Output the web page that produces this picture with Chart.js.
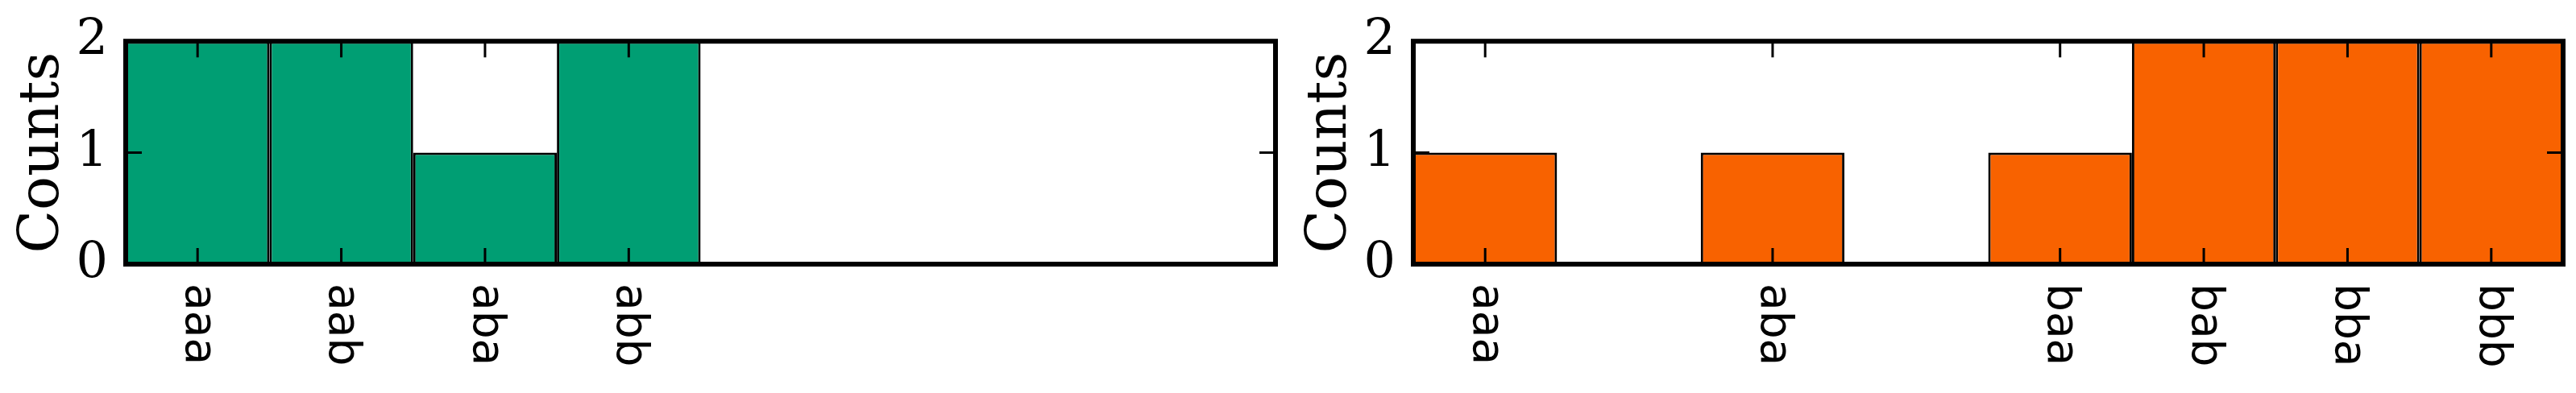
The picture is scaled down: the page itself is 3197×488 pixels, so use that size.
<!DOCTYPE html>
<html>
<head>
<meta charset="utf-8">
<script src="https://cdn.jsdelivr.net/npm/chart.js@4.4.0/dist/chart.umd.min.js"></script>
<style>
  body { margin: 0; background: #fff; }
  .panel { position: absolute; top: 0; width: 1598px; height: 488px; }
</style>
</head>
<body>
<div class="panel" style="left:0"><canvas id="left_chart"></canvas></div>
<div class="panel" style="left:1598px"><canvas id="right_chart"></canvas></div>
<script>
// 8 bins each, only non-empty bins get a tick and a label
var left_labels = ['aaa', 'aab', 'aba', 'abb', '', '', '', ''];
var left_counts = [2, 2, 1, 2, 0, 0, 0, 0];
var right_labels = ['aaa', '', 'aba', '', 'baa', 'bab', 'bba', 'bbb'];
var right_counts = [1, 0, 1, 0, 1, 2, 2, 2];
var y_ticks = [0, 1, 2];

// frame, inside ticks and top-to-bottom x labels (matplotlib style)
var frame_plugin = {
    id: 'frame',
    afterDatasetsDraw: function(chart){
        var ctx = chart.ctx;
        var a = chart.chartArea;
        var xs = chart.scales.x;
        var ys = chart.scales.y;
        var labels = chart.data.labels;
        ctx.save();
        ctx.strokeStyle = '#000';
        ctx.lineWidth = 3;
        ctx.beginPath();
        for(var i = 0; i < labels.length; i++){
            if(!labels[i]) continue;
            var x = xs.getPixelForValue(i);
            ctx.moveTo(x, a.bottom); ctx.lineTo(x, a.bottom - 20);
            ctx.moveTo(x, a.top); ctx.lineTo(x, a.top + 20);
        }
        for(var j = 0; j < y_ticks.length; j++){
            var y = ys.getPixelForValue(y_ticks[j]);
            ctx.moveTo(a.left, y); ctx.lineTo(a.left + 20, y);
            ctx.moveTo(a.right, y); ctx.lineTo(a.right - 20, y);
        }
        ctx.stroke();
        ctx.lineWidth = 6;
        ctx.strokeRect(a.left, a.top, a.right - a.left, a.bottom - a.top);

        ctx.fillStyle = '#000';
        ctx.font = '55px "DejaVu Sans"';
        ctx.textAlign = 'left';
        ctx.textBaseline = 'middle';
        for(var k = 0; k < labels.length; k++){
            if(!labels[k]) continue;
            ctx.save();
            ctx.translate(xs.getPixelForValue(k), a.bottom + 24);
            ctx.rotate(Math.PI / 2);
            ctx.fillText(labels[k], 0, 0);
            ctx.restore();
        }
        ctx.restore();
    }
};

function draw_hist(canvas_id, labels, counts, color){
    new Chart(document.getElementById(canvas_id), {
        type: 'bar',
        data: {
            labels: labels,
            datasets: [{
                data: counts,
                backgroundColor: color,
                borderColor: '#000',
                borderWidth: 3,
                borderSkipped: false,
                inflateAmount: 0,
                barPercentage: 1,
                categoryPercentage: 1
            }]
        },
        options: {
            responsive: true,
            maintainAspectRatio: false,
            animation: false,
            layout: { padding: { left: 0, right: 15, top: 46, bottom: 160 } },
            plugins: { legend: { display: false }, tooltip: { enabled: false } },
            scales: {
                x: { display: false },
                y: {
                    min: 0,
                    max: 2,
                    afterFit: function(s){ s.width = 156; },
                    grid: { display: false },
                    border: { display: false },
                    ticks: {
                        stepSize: 1,
                        padding: 14,
                        color: '#000',
                        font: { family: '"DejaVu Serif"', size: 62 }
                    },
                    title: {
                        display: true,
                        text: 'Counts',
                        color: '#000',
                        padding: { top: 12, bottom: 0 },
                        font: { family: '"DejaVu Serif"', size: 70 }
                    }
                }
            }
        },
        plugins: [frame_plugin]
    });
}

draw_hist('left_chart', left_labels, left_counts, '#009E73');
draw_hist('right_chart', right_labels, right_counts, '#F86200');
</script>
</body>
</html>
